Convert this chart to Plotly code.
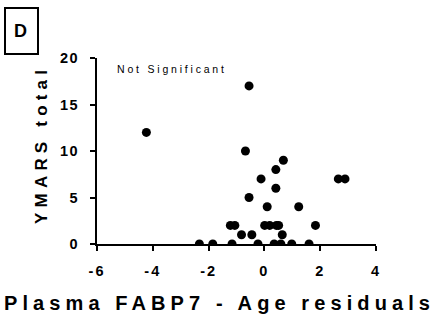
import plotly.graph_objects as go

# Data
fabp7_resid = [-0.55, -4.23, -0.68, 0.68, 0.41, -0.12, 2.65, 2.89, 0.41, -0.55,
               0.10, 1.23, -1.22, -1.06, 0.01, 0.19, 0.43, 0.51, 1.83,
               -0.82, -0.45, 0.64,
               -2.33, -1.85, -1.16, -0.23, 0.35, 0.59, 0.98, 1.60]
ymars_total = [17, 12, 10, 9, 8, 7, 7, 7, 6, 5,
               4, 4, 2, 2, 2, 2, 2, 2, 2,
               1, 1, 1,
               0, 0, 0, 0, 0, 0, 0, 0]
x_ticks = [-6, -4, -2, 0, 2, 4]
y_ticks = [0, 5, 10, 15, 20]

FONT = "Arial, Liberation Sans, sans-serif"
W, H = 441, 327
L, R, T, B = 97, 65, 58, 83


def px(x):
    return (x - L) / (W - L - R)


def py(y):
    return (H - B - y) / (H - T - B)


def spaced(s, sp):
    return f'<span style="letter-spacing:{sp}px">{s}</span>'


fig = go.Figure()
fig.add_trace(go.Scatter(
    x=fabp7_resid, y=ymars_total, mode="markers",
    marker=dict(color="black", size=9, line=dict(width=0)),
    showlegend=False, hoverinfo="skip",
))

axis_common = dict(
    showline=True, linecolor="black", linewidth=2,
    ticks="outside", ticklen=5, tickwidth=2, tickcolor="black",
    showgrid=False, zeroline=False,
    tickfont=dict(family=FONT, size=14.5, color="black", weight="bold"),
)

fig.update_xaxes(range=[-6, 4], tickvals=x_ticks,
                 ticktext=[spaced(str(v), 2) for v in x_ticks],
                 ticklabelstandoff=8, **axis_common)
fig.update_yaxes(range=[0, 20], tickvals=y_ticks,
                 ticktext=[spaced(str(v), 1.5) for v in y_ticks],
                 ticklabelstandoff=8, **axis_common)

# Text annotations
fig.add_annotation(x=-5.34, y=18.84, xref="x", yref="y", text=spaced("Not Significant", 2.8),
                   showarrow=False, xanchor="left", yanchor="middle",
                   font=dict(family=FONT, size=10.5, color="black"))
fig.add_annotation(x=px(219), y=py(303), xref="paper", yref="paper",
                   text=spaced("Plasma FABP7 - Age residuals", 5.1),
                   showarrow=False, xanchor="center", yanchor="middle",
                   font=dict(family=FONT, size=20, color="black", weight="bold"))
fig.add_annotation(x=px(41), y=py(145), xref="paper", yref="paper",
                   text=spaced("YMARS total", 5.2), textangle=-90,
                   showarrow=False, xanchor="center", yanchor="middle",
                   font=dict(family=FONT, size=17, color="black", weight="bold"))
fig.add_shape(type="rect", xref="paper", yref="paper",
              x0=px(5), x1=px(38), y0=py(8), y1=py(54),
              line=dict(color="black", width=2))
fig.add_annotation(x=px(20), y=py(31), xref="paper", yref="paper", text="D",
                   showarrow=False, xanchor="center", yanchor="middle",
                   font=dict(family=FONT, size=18, color="black", weight="bold"))

fig.update_layout(
    width=W, height=H,
    margin=dict(l=L, r=R, t=T, b=B, autoexpand=False),
    paper_bgcolor="white", plot_bgcolor="white",
)

fig.write_html("out.html", config={"displayModeBar": False},
               post_script="document.body.style.margin='0';")
